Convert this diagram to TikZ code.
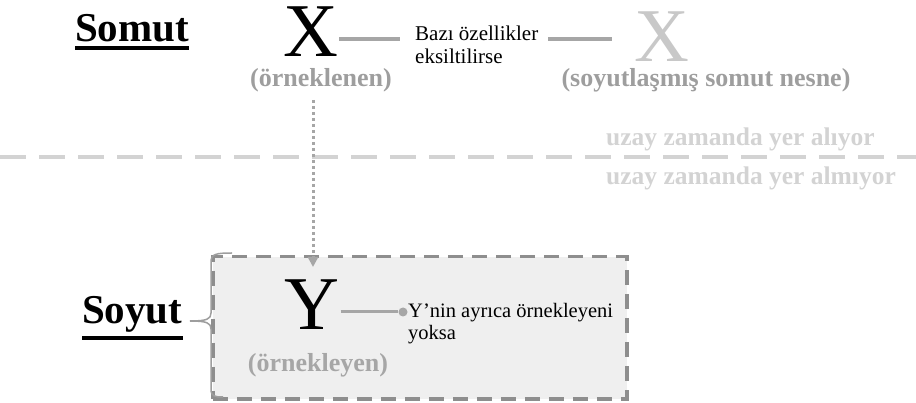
\documentclass[tikz,border=0pt]{standalone}
\usepackage{fontspec}
\setmainfont{Liberation Serif}
\usetikzlibrary{arrows.meta,calc}
\definecolor{conngray}{HTML}{A6A6A6}
\definecolor{lblgray}{HTML}{9E9E9E}
\definecolor{xgray}{HTML}{C8C8C8}
\definecolor{uzgray}{HTML}{D3D3D3}
\definecolor{boxline}{HTML}{8E8E8E}
\definecolor{boxfill}{HTML}{EFEFEF}
\begin{document}
\begin{tikzpicture}[x=1pt,y=-1pt,
  title/.style={font=\fontsize{41}{41}\selectfont\bfseries, inner sep=0pt, text=black},
  uline/.style={line width=3.5pt, black},
  bigx/.style={font=\fontsize{76}{76}\selectfont, inner sep=0pt},
  lbl/.style={font=\fontsize{26}{26}\selectfont\bfseries, inner sep=0pt, text=lblgray},
  uz/.style={font=\fontsize{25.5}{25.5}\selectfont\bfseries, inner sep=0pt, text=uzgray},
  txt/.style={font=\fontsize{21}{23}\selectfont, inner sep=0pt, align=left, text=black},
  conn/.style={line width=3.5pt, conngray},
  sepline/.style={line width=4pt, uzgray, dash pattern=on 26pt off 13pt},
  dotline/.style={line width=3pt, conngray, dash pattern=on 3pt off 3pt},
  boxstyle/.style={draw=boxline, fill=boxfill, line width=3.5pt, dash pattern=on 15pt off 9pt, inner sep=0pt},
  bracestyle/.style={draw=lblgray, line width=1.5pt}
]
\useasboundingbox (0,0) rectangle (916,403);

% box
\node[boxstyle, anchor=north west, minimum width=414pt, minimum height=142pt] (box) at (211,255) {};
\draw[bracestyle] (232,253) .. controls (216,253) and (211,254) .. (211,262) -- (211,313)
  .. controls (211,319) and (207,321) .. (190,321)
  .. controls (207,321) and (211,323) .. (211,329) -- (211,389)
  .. controls (211,396) and (214,397) .. (223,397);

% top row
\node[title, anchor=base west] (somut) at (75,42) {Somut};
\draw[uline] ([yshift=-6pt]somut.base west) -- ([yshift=-6pt]somut.base east);

\node[bigx, anchor=base, text=black] (x1) at (311,57) {X};
\node[lbl, anchor=base] (orn1) at (321,87) {(örneklenen)};
\node[txt, anchor=base west] (bazi) at (415,64) {Bazı özellikler\\eksiltilirse};
\node[bigx, anchor=base, text=xgray] (x2) at (662,62) {X};
\node[lbl, anchor=base] (sn) at (706,87) {(soyutlaşmış somut nesne)};

\coordinate (la) at (339,39);
\draw[conn] (la) -- ([xshift=-15pt]la -| bazi.west);
\draw[conn] ([xshift=10pt]la -| bazi.east) -- ([xshift=-22pt]la -| x2.west);

% separator
\node[uz, anchor=base west] (u1) at (606,146) {uzay zamanda yer alıyor};
\node[uz, anchor=base west] (u2) at (606,185) {uzay zamanda yer almıyor};
\coordinate (sl) at (0,157);
\coordinate (sr) at (916,157);
\draw[sepline] (sl) -- (sr);

% bottom
\node[title, anchor=base west] (soyut) at (82,324) {Soyut};
\draw[uline] ([yshift=-14pt]soyut.base west) -- ([yshift=-14pt]soyut.base east);

\node[bigx, anchor=base, text=black] (ybig) at (312,330) {Y};
\node[lbl, anchor=base, text=conngray] (orn2) at (318,372) {(örnekleyen)};
\node[circle, fill=conngray, inner sep=0pt, minimum size=9pt] (dot) at (403,312) {};
\draw[line width=3pt, conngray] ([xshift=1pt]ybig.east |- dot) -- (dot);
\node[txt, anchor=base west, font=\fontsize{20.5}{22}\selectfont] (yn) at (408,340) {Y’nin ayrıca örnekleyeni\\yoksa};

% dotted arrow
\coordinate (dtop) at (313,100);
\coordinate (dbot) at (313,267);
\draw[dotline, -{Triangle[width=10pt,length=10pt,fill=conngray]}] (dtop) -- (dbot);
\end{tikzpicture}
\end{document}
